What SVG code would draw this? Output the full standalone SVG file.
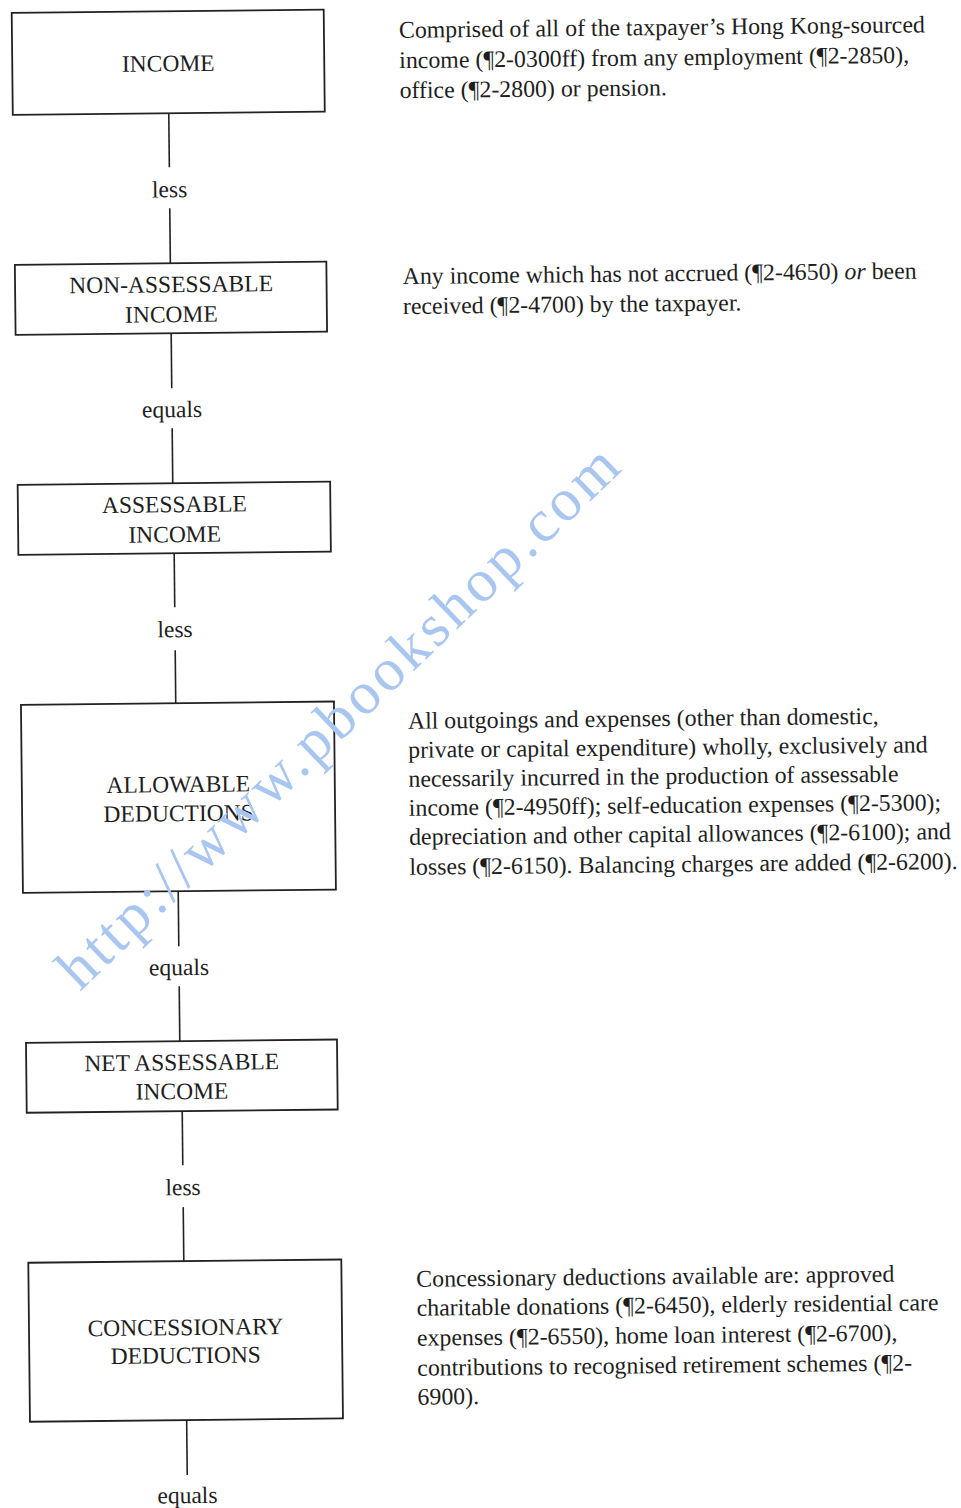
<svg xmlns="http://www.w3.org/2000/svg" width="961" height="1508" viewBox="0 0 961 1508">
<style>
  .box { fill: #ffffff; stroke: #222; stroke-width: 1.8; }
  .conn { stroke: #222; stroke-width: 1.6; fill: none; }
  .t { font-family: "Liberation Serif", "Times New Roman", serif; font-size: 23.5px; fill: #1e1e1e; }
  .p { font-size: 23.85px; }
  .c { text-anchor: middle; }
  .wm { font-family: "Liberation Serif", "Times New Roman", serif; font-size: 60px; fill: #a8c6f0; }
</style>
<rect x="0" y="0" width="961" height="1508" fill="#ffffff"/>
<g transform="rotate(-0.6 480 754)">
  <g id="connectors">
    <line class="conn" x1="175.5" y1="110" x2="175.5" y2="164"/>
    <line class="conn" x1="175.5" y1="205" x2="175.5" y2="260"/>
    <text class="t c" x="175.5" y="194">less</text>
    <line class="conn" x1="175.6" y1="330" x2="175.6" y2="385"/>
    <line class="conn" x1="175.6" y1="425" x2="175.6" y2="480"/>
    <text class="t c" x="175.6" y="414">equals</text>
    <line class="conn" x1="176.3" y1="550" x2="176.3" y2="604"/>
    <line class="conn" x1="176.3" y1="647" x2="176.3" y2="700"/>
    <text class="t c" x="176.3" y="634">less</text>
    <line class="conn" x1="176.8" y1="888" x2="176.8" y2="943"/>
    <line class="conn" x1="176.8" y1="983" x2="176.8" y2="1038"/>
    <text class="t c" x="176.8" y="972">equals</text>
    <line class="conn" x1="178.5" y1="1108" x2="178.5" y2="1162"/>
    <line class="conn" x1="178.5" y1="1204" x2="178.5" y2="1258"/>
    <text class="t c" x="178.5" y="1192">less</text>
    <line class="conn" x1="179.7" y1="1417" x2="179.7" y2="1472"/>
    <text class="t c" x="179.7" y="1500">equals</text>
  </g>
  <g id="income">
    <rect class="box" x="19.5" y="8" width="312" height="102"/>
    <text class="t c" x="175.5" y="68">INCOME</text>
  </g>
  <g id="non-assessable-income">
    <rect class="box" x="20" y="260" width="311.5" height="70"/>
    <text class="t c" x="176" y="289">NON-ASSESSABLE</text>
    <text class="t c" x="176" y="319">INCOME</text>
  </g>
  <g id="assessable-income">
    <rect class="box" x="20.5" y="480" width="312.5" height="70"/>
    <text class="t c" x="177" y="509">ASSESSABLE</text>
    <text class="t c" x="177" y="539">INCOME</text>
  </g>
  <g id="allowable-deductions">
    <rect class="box" x="21.5" y="700" width="313" height="188"/>
    <text class="t c" x="178" y="789">ALLOWABLE</text>
    <text class="t c" x="178" y="818">DEDUCTIONS</text>
  </g>
  <g id="net-assessable-income">
    <rect class="box" x="23" y="1038" width="311" height="70"/>
    <text class="t c" x="178.5" y="1067">NET ASSESSABLE</text>
    <text class="t c" x="178.5" y="1096">INCOME</text>
  </g>
  <g id="concessionary-deductions">
    <rect class="box" x="23" y="1258" width="313" height="159"/>
    <text class="t c" x="179.5" y="1332">CONCESSIONARY</text>
    <text class="t c" x="179.5" y="1360">DEDUCTIONS</text>
  </g>
  <g id="note-income">
    <text class="t p" x="406.5" y="37">Comprised of all of the taxpayer’s Hong Kong-sourced</text>
    <text class="t p" x="406.5" y="67.3">income (¶2-0300ff) from any employment (¶2-2850),</text>
    <text class="t p" x="406.5" y="97.3">office (¶2-2800) or pension.</text>
  </g>
  <g id="note-non-assessable">
    <text class="t p" x="407.6" y="283.2">Any income which has not accrued (¶2-4650) <tspan font-style="italic">or</tspan> been</text>
    <text class="t p" x="407.6" y="313.2">received (¶2-4700) by the taxpayer.</text>
  </g>
  <g id="note-allowable">
    <text class="t p" x="408.2" y="728">All outgoings and expenses (other than domestic,</text>
    <text class="t p" x="408.2" y="757">private or capital expenditure) wholly, exclusively and</text>
    <text class="t p" x="408.2" y="786">necessarily incurred in the production of assessable</text>
    <text class="t p" x="408.2" y="815">income (¶2-4950ff); self-education expenses (¶2-5300);</text>
    <text class="t p" x="408.2" y="844">depreciation and other capital allowances (¶2-6100); and</text>
    <text class="t p" x="408.2" y="874">losses (¶2-6150). Balancing charges are added (¶2-6200).</text>
  </g>
  <g id="note-concessionary">
    <text class="t p" x="410.8" y="1286">Concessionary deductions available are: approved</text>
    <text class="t p" x="410.8" y="1315">charitable donations (¶2-6450), elderly residential care</text>
    <text class="t p" x="410.8" y="1345">expenses (¶2-6550), home loan interest (¶2-6700),</text>
    <text class="t p" x="410.8" y="1375">contributions to recognised retirement schemes (¶2-</text>
    <text class="t p" x="410.8" y="1404">6900).</text>
  </g>
</g>
<text class="wm" x="0" y="0" transform="translate(80 992) rotate(-43.87)" textLength="753" lengthAdjust="spacing">http://www.pbookshop.com</text>
</svg>
